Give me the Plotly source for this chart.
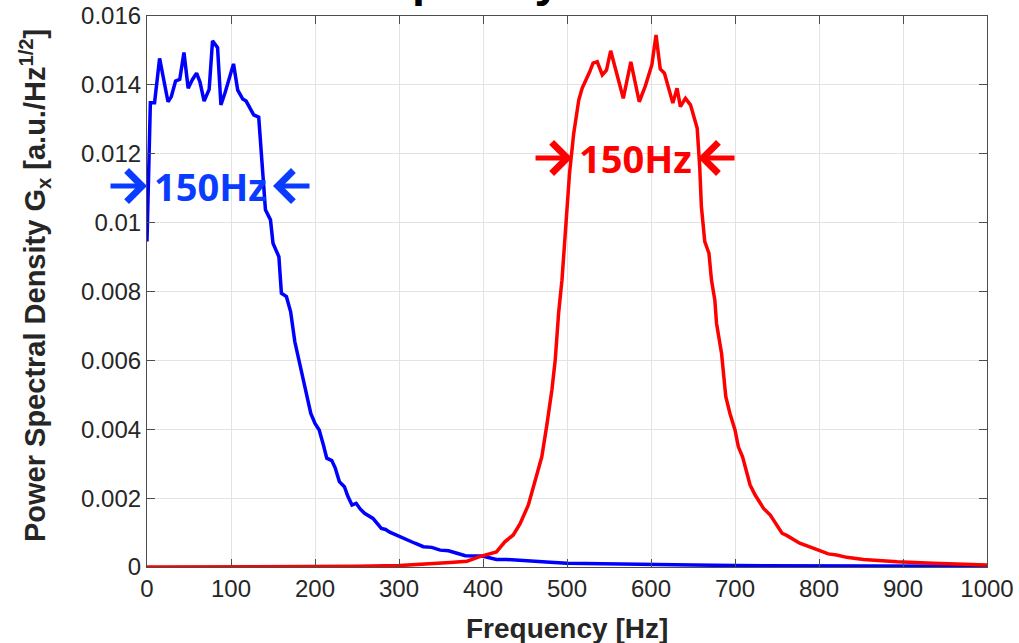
import plotly.graph_objects as go

# ---- data ----
blue_f = [0, 4, 9, 15, 25, 29, 34, 39, 44, 49, 54, 59, 63, 68, 74, 78, 84, 88, 93, 97,
          103, 108, 114, 118, 127, 133, 138, 141, 147, 150, 157, 160, 166, 171, 176, 182, 188, 195, 200, 205,
          210, 214, 220, 224, 229, 235, 239, 244, 249, 254, 259, 264, 269, 279, 284, 289, 299, 309, 319, 329,
          339, 349, 359, 369, 379, 399, 416, 428, 448, 480, 500, 550, 600, 650, 700, 800, 900, 1000]
blue_v = [0.00945, 0.01348, 0.01348, 0.01477, 0.01351, 0.01366, 0.01411, 0.01416, 0.01494, 0.0139,
          0.01415, 0.01434, 0.01409, 0.01353, 0.01387, 0.01528, 0.01508, 0.01342, 0.01378, 0.01414,
          0.01461, 0.01385, 0.01359, 0.01353, 0.01313, 0.01306, 0.01143, 0.01037, 0.01008, 0.0094,
          0.00901, 0.00795, 0.00785, 0.00741, 0.00654, 0.00591, 0.00524, 0.00446, 0.00417, 0.00398,
          0.00354, 0.00316, 0.00309, 0.00288, 0.00248, 0.00233, 0.00206, 0.0018, 0.00185, 0.00168,
          0.00156, 0.00148, 0.00141, 0.00112, 0.00109, 0.00101, 0.0009, 0.00078, 0.00069, 0.00059,
          0.00057, 0.00049, 0.00047, 0.0004, 0.00033, 0.00032, 0.00022, 0.00022, 0.00018, 0.00014,
          0.00011, 0.0001, 0.00008, 0.00006, 0.00004, 0.00003, 0.000025, 0.00002]

red_f = [0, 100, 200, 250, 300, 341, 361, 381, 396, 416, 426, 436, 444, 454, 463, 470, 476, 482, 486, 490,
         494, 498, 503, 508, 514, 518, 521, 527, 531, 536, 542, 547, 552, 567, 576, 586, 593, 601, 606, 611,
         616, 619, 626, 631, 635, 641, 647, 651, 655, 658, 660, 664, 669, 672, 676, 678, 684, 689, 694, 700,
         704, 709, 718, 724, 734, 742, 756, 762, 777, 797, 811, 821, 833, 853, 877, 893, 936, 1000]
red_v = [0.0, 0.0, 0.00001, 0.00002, 0.00004, 0.00009, 0.00013, 0.00017, 0.0003, 0.00044,
         0.00073, 0.00093, 0.00125, 0.0018, 0.00258, 0.0032, 0.00412, 0.00514, 0.00601, 0.00737,
         0.00833, 0.00969, 0.01143, 0.01259, 0.01356, 0.0139, 0.01405, 0.01438, 0.01463, 0.01467,
         0.01429, 0.01443, 0.01499, 0.01361, 0.01467, 0.01351, 0.01395, 0.01458, 0.01545, 0.01446,
         0.01434, 0.01409, 0.01347, 0.0139, 0.01337, 0.01361, 0.01342, 0.01308, 0.01274, 0.01162,
         0.01046, 0.00945, 0.00911, 0.00833, 0.00775, 0.00708, 0.0062, 0.00495, 0.00446, 0.00398,
         0.00349, 0.0032, 0.00238, 0.00209, 0.0017, 0.00151, 0.00098, 0.00091, 0.00069, 0.00051,
         0.00038, 0.00035, 0.00028, 0.00022, 0.00018, 0.00015, 0.00011, 0.00006]

x_ticks = [0, 100, 200, 300, 400, 500, 600, 700, 800, 900, 1000]
y_ticks = [0, 0.002, 0.004, 0.006, 0.008, 0.01, 0.012, 0.014, 0.016]
y_tick_text = ["0", "0.002", "0.004", "0.006", "0.008", "0.01", "0.012", "0.014", "0.016"]

# bandwidth markers (Hz edges, level)
blue_band = [0, 150]
blue_level = 0.01106
red_band = [506, 656]
red_level = 0.01188
band_label = "150Hz"

title_text = "Frequency Domain"
x_title = "Frequency [Hz]"
y_title = "Power Spectral Density G<sub>x</sub> [a.u./Hz<sup>1/2</sup>]"

BLUE_TXT = "#0a3cff"
RED_TXT = "#ff0000"
AX = "#262626"

fig = go.Figure()
fig.add_trace(go.Scatter(x=blue_f, y=blue_v, mode="lines",
                         line=dict(color="#0000ff", width=3.5), showlegend=False))
fig.add_trace(go.Scatter(x=red_f, y=red_v, mode="lines",
                         line=dict(color="#ff0000", width=3.5), showlegend=False))

annots = []
for band, level, col in [(blue_band, blue_level, BLUE_TXT), (red_band, red_level, RED_TXT)]:
    # left arrow pointing right, right arrow pointing left
    for xe, dx in [(band[0], -38), (band[1], 38)]:
        annots.append(dict(x=xe, y=level, xref="x", yref="y", ax=dx, ay=0,
                           showarrow=True, arrowhead=4, arrowsize=1.2, arrowwidth=5,
                           arrowcolor=col, text=""))
    annots.append(dict(x=(band[0] + band[1]) / 2, y=level, xref="x", yref="y",
                       text="<b>" + band_label + "</b>", showarrow=False,
                       font=dict(family="Open Sans", size=38, color=col),
                       xanchor="center", yanchor="middle"))

# title, mostly cut off at the top edge of the picture (as in the reference)
annots.append(dict(x=0.461, y=1.014, xref="paper", yref="paper", text="<b>" + title_text + "</b>",
                   showarrow=False, xanchor="center", yanchor="bottom",
                   font=dict(family="Liberation Sans", size=47, color="black")))

# axis titles
annots.append(dict(x=0.5, y=-0.111, xref="paper", yref="paper", text="<b>" + x_title + "</b>",
                   showarrow=False, xanchor="center", yanchor="middle",
                   font=dict(family="Liberation Sans", size=28, color=AX)))
annots.append(dict(x=-0.1333, y=0.51, xref="paper", yref="paper", text="<b>" + y_title + "</b>",
                   showarrow=False, xanchor="center", yanchor="middle", textangle=-90,
                   font=dict(family="Liberation Sans", size=29, color=AX)))

axis_common = dict(ticks="inside", ticklen=8, tickwidth=1, tickcolor="#4d4d4d",
                   showline=True, linecolor="#4d4d4d", linewidth=1.2, mirror="ticks",
                   showgrid=True, gridcolor="#e3e3e3", gridwidth=1, zeroline=False,
                   automargin=False, tickfont=dict(family="Liberation Sans", size=24, color=AX))

fig.update_layout(
    width=1019, height=643,
    margin=dict(l=147, r=32, t=16, b=76),
    paper_bgcolor="white", plot_bgcolor="white",
    font=dict(family="Liberation Sans", size=24, color=AX),
    annotations=annots,
    xaxis=dict(range=[0, 1000], tickvals=x_ticks, **axis_common),
    yaxis=dict(range=[0, 0.016], tickvals=y_ticks, ticktext=y_tick_text, **axis_common),
)

fig.write_html("out.html")
